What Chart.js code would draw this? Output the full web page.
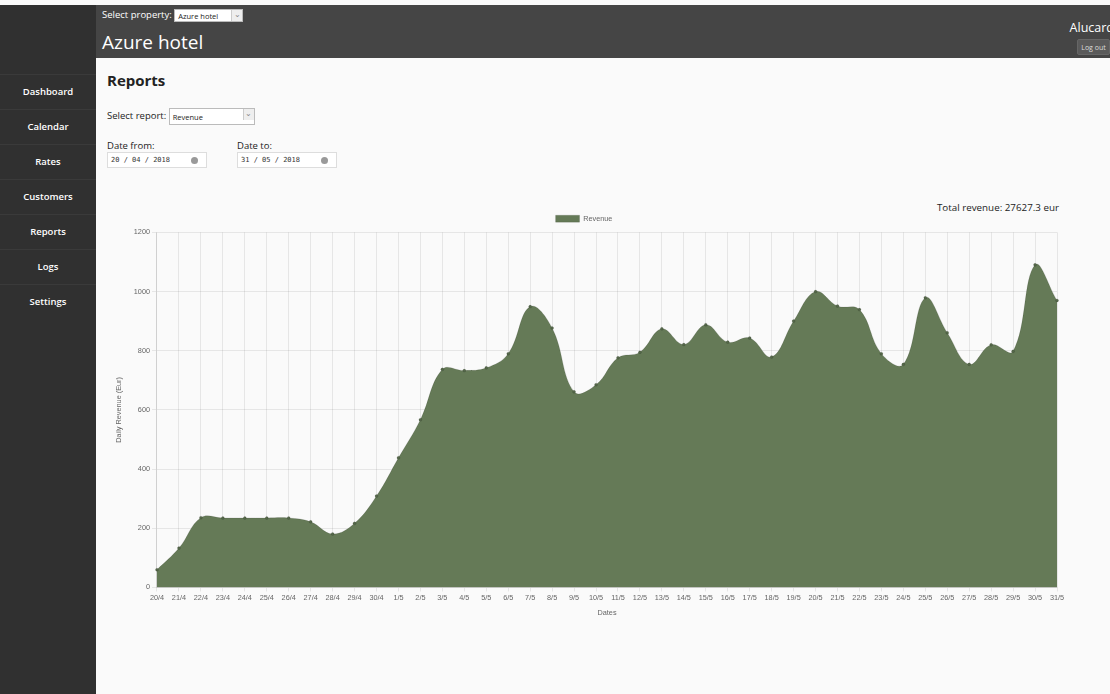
<!DOCTYPE html>
<html>
<head>
<meta charset="utf-8">
<title>Reports - Azure hotel</title>
<script src="https://cdn.jsdelivr.net/npm/chart.js@4/dist/chart.umd.min.js"></script>
<style>
    html, body { margin: 0; padding: 0; }
    body {
        width: 1110px; height: 694px; overflow: hidden; position: relative;
        background: #fafafa; font-family: "Open Sans", sans-serif;
    }
    #sidebar {
        position: absolute; left: 0; top: 5px; width: 96px; bottom: 0;
        background: #303030;
    }
    #sidebar ul { list-style: none; margin: 0; padding: 0; position: absolute; top: 69px; width: 100%; }
    #sidebar li {
        height: 34px; line-height: 34px; text-align: center; color: #fff;
        font-size: 9.5px; font-weight: 600; border-top: 1px solid #3a3a3a;
    }
    #header {
        position: absolute; left: 96px; right: 0; top: 5px; height: 53px;
        background: #454545; color: #fff;
    }
    #header .prop { position: absolute; left: 6px; top: 3px; font-size: 9.5px; }
    .sel {
        display: inline-block; position: relative; background: #fff; color: #222;
        border: 1px solid #bbb; font-size: 7.5px; vertical-align: middle;
        height: 13px; line-height: 13px; padding-left: 3px; box-sizing: border-box;
    }
    .sel:after {
        content: "\2304"; position: absolute; right: 0; top: 0; width: 10px; height: 11px;
        border-left: 1px solid #ccc; background: #eee; color: #888; font-size: 8px;
        line-height: 7px; text-align: center;
    }
    #header h1 { position: absolute; left: 6px; top: 24px; margin: 0; font-size: 19px; font-weight: 400; }
    #user { position: absolute; right: -4px; top: 14px; font-size: 12.5px; }
    #logout {
        position: absolute; right: 0; top: 34px; width: 33px; height: 16px; background: #5a5a5a;
        border: 1px solid #666; border-radius: 2px; font-size: 7px; line-height: 15px;
        text-align: center; color: #ddd; box-sizing: border-box;
    }
    #main { position: absolute; left: 96px; right: 0; top: 58px; bottom: 0; }
    #main h2 { position: absolute; left: 11px; top: 12px; margin: 0; font-size: 15px; font-weight: 700; color: #222; }
    .lbl { position: absolute; font-size: 9.5px; color: #222; }
    .inp {
        position: absolute; width: 100px; height: 16px; background: #fff; border: 1px solid #ddd;
        font-family: "DejaVu Sans Mono", monospace; font-size: 7px; line-height: 14px;
        padding-left: 3px; box-sizing: border-box; color: #333;
    }
    .inp i {
        position: absolute; right: 8px; top: 4px; width: 7px; height: 7px; border-radius: 50%;
        background: #999;
    }
    #total { position: absolute; right: 51px; top: 143px; font-size: 9.8px; color: #222; }
    #chartBox { position: absolute; left: 107px; top: 209px; width: 962px; height: 412px; }
</style>
</head>
<body>
<div id="sidebar">
    <ul>
        <li>Dashboard</li>
        <li>Calendar</li>
        <li>Rates</li>
        <li>Customers</li>
        <li>Reports</li>
        <li>Logs</li>
        <li>Settings</li>
    </ul>
</div>
<div id="header">
    <div class="prop">Select property: <span class="sel" style="width:69px">Azure hotel</span></div>
    <h1>Azure hotel</h1>
    <div id="user">Alucard</div>
    <div id="logout">Log out</div>
</div>
<div id="main">
    <h2>Reports</h2>
    <div class="lbl" style="left:11px;top:50px">Select report: <span class="sel" style="width:86px;height:17px;line-height:16px">Revenue</span></div>
    <div class="lbl" style="left:11px;top:81px">Date from:</div>
    <div class="inp" style="left:11px;top:94px">20 / 04 / 2018<i></i></div>
    <div class="lbl" style="left:141px;top:81px">Date to:</div>
    <div class="inp" style="left:141px;top:94px">31 / 05 / 2018<i></i></div>
    <div id="total">Total revenue: 27627.3 eur</div>
</div>
<div id="chartBox"><canvas id="revenueChart"></canvas></div>

<script>
// Tick labels (day/month) and daily revenue in Eur
const dates = [
    "20/4", "21/4", "22/4", "23/4", "24/4", "25/4", "26/4", "27/4", "28/4", "29/4", "30/4",
    "1/5", "2/5", "3/5", "4/5", "5/5", "6/5", "7/5", "8/5", "9/5", "10/5", "11/5", "12/5",
    "13/5", "14/5", "15/5", "16/5", "17/5", "18/5", "19/5", "20/5", "21/5", "22/5", "23/5",
    "24/5", "25/5", "26/5", "27/5", "28/5", "29/5", "30/5", "31/5"
];
const revenue = [
    60, 133, 236, 235, 235, 235, 235, 222, 181, 217, 309,
    438, 567, 737, 733, 742, 790, 949, 877, 661, 685, 776, 795,
    874, 821, 888, 829, 843, 779, 900, 1000, 951, 939, 790,
    754, 979, 861, 754, 820, 798, 1090, 970
];
const yTicks = [0, 200, 400, 600, 800, 1000, 1200];

const fillColor = "#657a57";
const tickFont = { family: "'Liberation Sans', Arial, sans-serif", size: 7.3 };

document.addEventListener("DOMContentLoaded", () => {
    const ctx = document.getElementById("revenueChart").getContext("2d");
    new Chart(ctx, {
        type: "line",
        data: {
            labels: dates,
            datasets: [
                {
                    label: "Revenue",
                    data: revenue,
                    fill: "origin",
                    backgroundColor: fillColor,
                    borderColor: "rgba(0,0,0,0.1)",
                    borderWidth: 1,
                    tension: 0.4,
                    pointRadius: 1.5,
                    pointBackgroundColor: "#55684a",
                    pointBorderColor: "rgba(0,0,0,0.1)",
                },
            ],
        },
        options: {
            responsive: true,
            maintainAspectRatio: false,
            animation: false,
            layout: { padding: { left: 4, right: 12, top: 2, bottom: 0 } },
            plugins: {
                legend: {
                    position: "top",
                    labels: { boxWidth: 24, boxHeight: 7, padding: 4, color: "#666", font: tickFont },
                },
                tooltip: { enabled: false },
            },
            scales: {
                x: {
                    grid: { color: "rgba(0,0,0,0.08)", tickLength: 4 },
                    ticks: { color: "#666", font: tickFont, maxRotation: 0, autoSkip: false, padding: 2 },
                    title: { display: true, text: "Dates", color: "#666", font: tickFont, padding: { top: 4 } },
                },
                y: {
                    min: 0,
                    max: 1200,
                    afterBuildTicks: (axis) => { axis.ticks = yTicks.map((v) => ({ value: v })); },
                    grid: { color: "rgba(0,0,0,0.08)", tickLength: 5 },
                    ticks: { color: "#666", font: tickFont, padding: 2, callback: (v) => String(v) },
                    title: { display: true, text: "Daily Revenue (Eur)", color: "#666", font: tickFont, padding: { bottom: 8 } },
                },
            },
        },
    });
});
</script>
</body>
</html>
